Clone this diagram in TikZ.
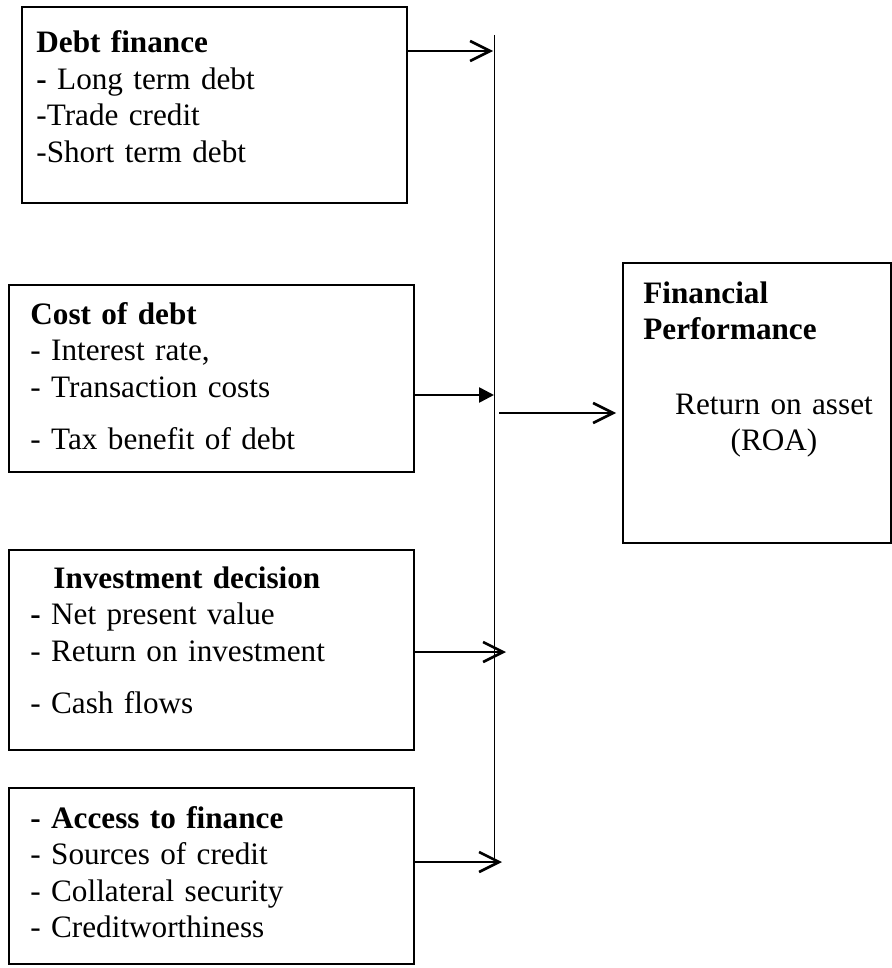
\documentclass[tikz,border=0pt]{standalone}
\usepackage{fontspec}
\setmainfont{Liberation Serif}
\usetikzlibrary{arrows.meta,positioning,calc,fit}

\begin{document}
\begin{tikzpicture}[
    x=0.5pt, y=-0.5pt,
    font=\fontsize{15.6pt}{18.25pt}\selectfont,
    box/.style={draw=black, line width=1pt, inner sep=0pt, fit={#1}},
    txt/.style={anchor=base west, inner sep=0pt, align=left, text width=#1},
    link/.style={line width=1.3pt, -{Straight Barb[length=10pt,width=10pt]}},
    solidlink/.style={line width=1.3pt, -{Triangle[length=7.5pt,width=7.5pt]}},
]
  \useasboundingbox (0,0) rectangle (892,968);

  %––– Boxes ––––––––––––––––––––––––––––––––––––––––––––––––
  \node (debt)   [box={(22,7) (407,203)}] {};
  \node (cost)   [box={(9,285) (414,472)}] {};
  \node (invest) [box={(9,550) (414,750)}] {};
  \node (access) [box={(9,788) (414,964)}] {};
  \node (perf)   [box={(623,263) (891,543)}] {};

  %––– Texts ––––––––––––––––––––––––––––––––––––––––––––––––
  \node (debttxt) [txt=190pt] at (36,53) {\textbf{Debt finance}\\
      \textbf{-} Long term debt\\-Trade credit\\-Short term debt};
  \node (costtxt) [txt=190pt] at (30,324) {\textbf{Cost of debt}\\
      - Interest rate,\\- Transaction costs\\[8pt]- Tax benefit of debt};
  \node (investtxt) [txt=190pt] at (30,588) {\hspace*{11.5pt}\textbf{Investment decision}\\
      \textbf{-} Net present value\\- Return on investment\\[8pt]- Cash flows};
  \node (accesstxt) [txt=190pt] at (30,828) {\textbf{- Access to finance}\\
      - Sources of credit\\- Collateral security\\- Creditworthiness};
  \node (perftxt) [txt=120pt] at (643,303) {\textbf{Financial}\\\textbf{Performance}};
  \node (roa) [anchor=base, inner sep=0pt, align=center, text width=110pt] at (774,414)
      {Return on asset\\(ROA)};

  %––– Bus line –––––––––––––––––––––––––––––––––––––––––––––
  \coordinate (busTop) at (494,35);
  \coordinate (busBot) at (494,862);
  \draw[line width=0.45pt] (busTop) -- (busBot);

  %––– Arrows –––––––––––––––––––––––––––––––––––––––––––––––
  \coordinate (inDebt)   at (493,51);
  \coordinate (inCost)   at (494,395);
  \coordinate (inInvest) at (506,652);
  \coordinate (inAccess) at (502,862);
  \coordinate (busOut)   at (499,413);

  \draw[link]      (debt.east |- inDebt)     -- (inDebt);
  \draw[solidlink] (cost.east |- inCost)     -- (inCost);
  \draw[link]      (invest.east |- inInvest) -- (inInvest);
  \draw[link]      (access.east |- inAccess) -- (inAccess);
  \draw[link, shorten >=3pt] (busOut) -- (busOut -| perf.west);
\end{tikzpicture}
\end{document}
